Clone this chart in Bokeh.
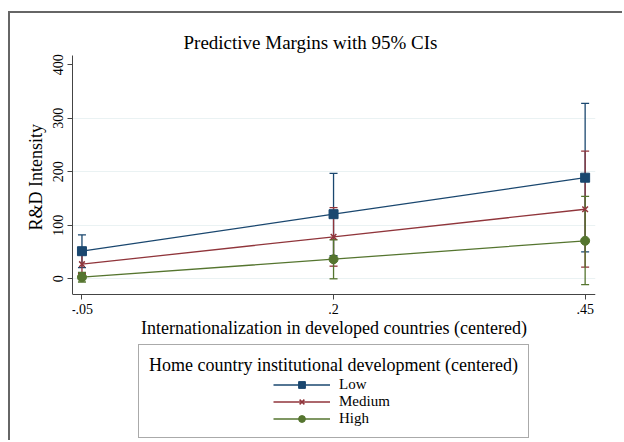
from bokeh.plotting import figure
from bokeh.models import (ColumnDataSource, Whisker, TeeHead, FixedTicker, Legend,
                          LegendItem, Range1d, Title)
from bokeh.embed import file_html
from bokeh.resources import INLINE

# ---- data ----
x_vals = [-0.05, 0.2, 0.45]
x_tick_labels = ["-.05", ".2", ".45"]
y_ticks = [0, 100, 200, 300, 400]
series_names = ["Low", "Medium", "High"]

low_margin = [51.6, 120.8, 189.0]
low_lower = [21.0, 43.5, 50.5]
low_upper = [82.0, 197.0, 328.0]

medium_margin = [27.3, 78.5, 130.0]
medium_lower = [10.0, 23.6, 21.7]
medium_upper = [45.0, 133.0, 238.5]

high_margin = [3.0, 36.6, 71.0]
high_lower = [-6.0, 0.0, -11.0]
high_upper = [12.0, 73.0, 154.0]

colors = ["#1a476f", "#90353b", "#55752f"]
markers = ["square", "x", "circle"]

FONT = "Liberation Serif"

Y_AXIS_MIN, Y_AXIS_MAX = -30, 417.4   # extent of the drawn y axis
Y_FRAME_MIN = -306                     # frame extends below to host the legend

p = figure(width=614, height=429, output_backend="svg", toolbar_location=None,
           x_range=Range1d(-0.0594, 0.4603), y_range=Range1d(Y_FRAME_MIN, Y_AXIS_MAX),
           min_border_left=62, min_border_right=29, min_border_top=42,
           min_border_bottom=0,
           title="Predictive Margins with 95% CIs",
           styles={"border-top": "2px solid #666666", "border-left": "2px solid #666666",
                   "margin-top": "11px", "margin-left": "8px"})
p.outline_line_color = None
p.background_fill_color = "white"
p.border_fill_color = "white"

p.title.text_font = FONT
p.title.text_font_size = "19px"
p.title.text_font_style = "normal"
p.title.align = "left"
p.title.offset = 111
p.title.standoff = 6
p.title.text_color = "black"

# axes
p.xaxis.ticker = FixedTicker(ticks=x_vals)
p.xaxis.major_label_overrides = {v: l for v, l in zip(x_vals, x_tick_labels)}
p.xaxis.fixed_location = Y_AXIS_MIN
p.yaxis.ticker = FixedTicker(ticks=y_ticks)
p.yaxis.bounds = (Y_AXIS_MIN, Y_AXIS_MAX)
p.yaxis.major_label_orientation = "vertical"
p.xaxis.axis_label = "Internationalization in developed countries (centered)"
for ax in (p.xaxis, p.yaxis):
    ax.axis_label_text_font = FONT
    ax.axis_label_text_font_size = "18px"
    ax.axis_label_text_font_style = "normal"
    ax.axis_label_text_color = "black"
    ax.major_label_text_font = FONT
    ax.major_label_text_font_size = "14px"
    ax.major_label_text_color = "black"
    ax.axis_line_color = "#444444"
    ax.major_tick_line_color = "#444444"
    ax.major_tick_out = 5
    ax.major_tick_in = 0
    ax.minor_tick_line_color = None
p.xaxis.major_label_standoff = 4
p.xaxis.axis_label_standoff = 1
p.yaxis.major_label_standoff = 4

ytitle = Title(text="R&D Intensity", align="left", offset=212,
               text_font=FONT, text_font_size="18px", text_font_style="normal",
               text_color="black", standoff=10)
p.add_layout(ytitle, "left")

p.xgrid.grid_line_color = None
p.ygrid.grid_line_color = "#eaf2f3"
p.ygrid.ticker = FixedTicker(ticks=[0, 100, 200, 300])

all_margin = [low_margin, medium_margin, high_margin]
all_lower = [low_lower, medium_lower, high_lower]
all_upper = [low_upper, medium_upper, high_upper]

sources = []
for m, lo, up in zip(all_margin, all_lower, all_upper):
    sources.append(ColumnDataSource(dict(x=x_vals, y=m, lower=lo, upper=up)))

# confidence intervals
for src, c in zip(sources, colors):
    w = Whisker(base="x", lower="lower", upper="upper", source=src,
                line_color=c, line_width=1.3,
                upper_head=TeeHead(size=8, line_color=c, line_width=1.3),
                lower_head=TeeHead(size=8, line_color=c, line_width=1.3))
    p.add_layout(w)

real_items = []
for src, c, mk, name in zip(sources, colors, markers, series_names):
    lr = p.line("x", "y", source=src, line_color=c, line_width=1.3)
    if mk == "x":
        sr = p.scatter("x", "y", source=src, marker="x", size=8, line_color=c,
                       line_width=1.5)
    else:
        sr = p.scatter("x", "y", source=src, marker=mk, size=9, fill_color=c,
                       line_color=c)
    real_items.append(LegendItem(label=name, renderers=[lr, sr]))

dummies = [p.line([], [], line_alpha=0) for _ in range(3)]
dummy_items = [LegendItem(label=" ", renderers=[d]) for d in dummies]

legend = Legend(items=dummy_items + real_items, nrows=3, orientation="vertical",
                title="Home country institutional development (centered)",
                location=(66, 4))
legend.title_text_font = FONT
legend.title_text_font_size = "18px"
legend.title_text_font_style = "normal"
legend.title_text_color = "black"
legend.title_standoff = 0
legend.label_text_font = FONT
legend.label_text_font_size = "15px"
legend.label_text_color = "black"
legend.border_line_color = "#555555"
legend.border_line_width = 1.3
legend.padding = 10
legend.spacing = 0
legend.glyph_width = 57
legend.glyph_height = 17
legend.label_height = 17
legend.label_standoff = 9
legend.label_width = 58
legend.background_fill_color = "white"
legend.background_fill_alpha = 1
legend.margin = 0
p.add_layout(legend, "center")

open("out.html", "w").write(file_html(p, INLINE))
